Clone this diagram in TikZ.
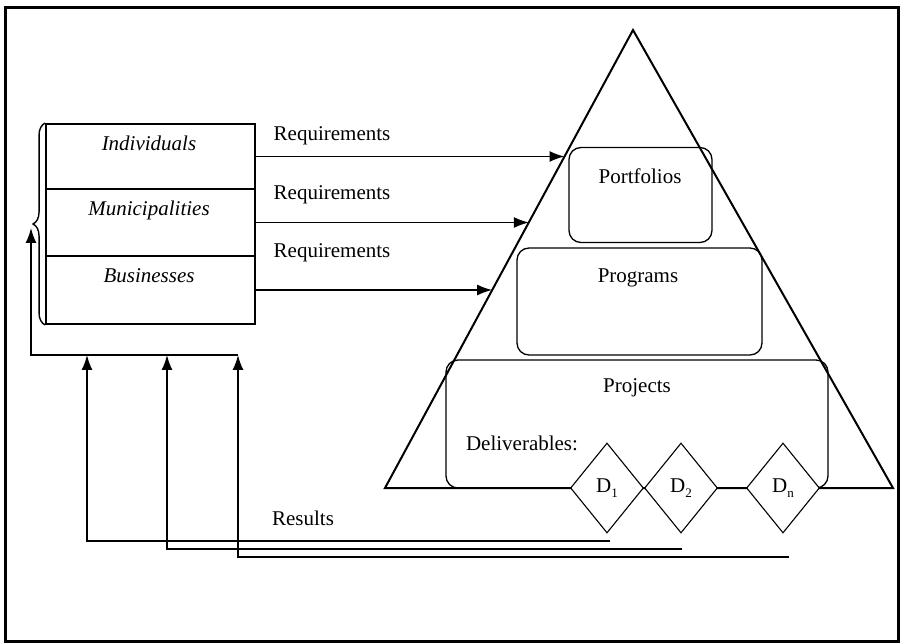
\documentclass[tikz,border=0pt]{standalone}
\usepackage{fontspec}
\setmainfont{Liberation Serif}
\usetikzlibrary{arrows.meta,shapes.geometric,decorations.pathreplacing,calc}
\newcommand{\dsub}[1]{D\raisebox{-.45ex}{\fontsize{13}{13}\selectfont #1}}

\begin{document}
\begin{tikzpicture}[x=1pt,y=-1pt]
\tikzset{cell/.style = {draw, line width=1.9pt, minimum width=209pt, inner sep=0pt}}
\tikzset{level/.style = {draw, rounded corners=12pt, line width=1.3pt, inner sep=0pt}}
\tikzset{deliv/.style = {diamond, draw, fill=white, minimum width=73pt, minimum height=90pt, inner sep=0pt, line width=1.1pt}}
\tikzset{req/.style = {-{Latex[length=15pt,width=11pt]}, line width=1.6pt}}
\tikzset{lbl/.style = {font=\fontsize{21}{24}\selectfont}}

\useasboundingbox (0,0) rectangle (900,644);
\draw[line width=3pt] (5,8) rectangle (898,641);

% pyramid
\coordinate (apex) at (633,30);
\coordinate (bl) at (385,488);
\coordinate (br) at (893,488);
\draw[line width=2pt] (apex) -- (bl) -- (br) -- cycle;

\node[level, minimum width=143pt, minimum height=95pt] (port) at (640.5,195) {};
\node[level, minimum width=245pt, minimum height=107pt] (prog) at (639.5,301.5) {};
\node[level, minimum width=382pt, minimum height=128pt] (proj) at (637,424) {};

\node[lbl] (portt) at (640,176) {Portfolios};
\node[lbl] (progt) at (638,278) {Programs};
\node[lbl] (projt) at (637,388) {Projects};
\node[lbl] (delt) at (522,443) {Deliverables:};

\node[deliv, lbl] (d1) at (607,488) {\dsub{1}};
\node[deliv, lbl] (d2) at (681,488) {\dsub{2}};
\node[deliv, lbl] (dn) at (783,488) {\dsub{n}};

% stakeholders
\node[cell, minimum height=65pt] (ind) at (150.5,156.5) {};
\node[cell, minimum height=67pt] (mun) at (150.5,222.5) {};
\node[cell, minimum height=68pt] (bus) at (150.5,290) {};

\node[lbl, font=\fontsize{21}{24}\selectfont\itshape] (indt) at (149,143) {Individuals};
\node[lbl, font=\fontsize{21}{24}\selectfont\itshape] (munt) at (149,210) {Municipalities};
\node[lbl, font=\fontsize{21}{24}\selectfont\itshape] (bust) at (149,276) {Businesses};

\draw[decorate, decoration={brace, amplitude=12pt}, line width=1.4pt] (ind.north west |- bus.south) -- (ind.north west);

% requirements
\coordinate (e1) at ($(apex)!0.276!(bl)$);
\coordinate (e2) at ($(apex)!0.420!(bl)$);
\coordinate (e3) at ($(apex)!0.568!(bl)$);
\draw[req] (ind.east) -- (ind.east -| e1);
\draw[req] (mun.east) -- (mun.east -| e2);
\draw[req] (bus.east) -- (bus.east -| e3);

\node[lbl] (q1) at (332,136) {Requirements};
\node[lbl] (q2) at (332,195) {Requirements};
\node[lbl] (q3) at (332,253) {Requirements};

% results
\coordinate (f1) at (610,541);
\coordinate (f2) at (682,549);
\coordinate (f3) at (789,557);
\coordinate (g1) at (87,355);
\coordinate (g2) at (167,355);
\coordinate (g3) at (238,355);
\coordinate (b) at (31,228);

\draw[req] (f1) -| (g1);
\draw[req] (f2) -| (g2);
\draw[req] (f3) -| (g3);
\draw[req] (g3) -| (b);

\node[lbl] (res) at (303,518) {Results};

\end{tikzpicture}
\end{document}
